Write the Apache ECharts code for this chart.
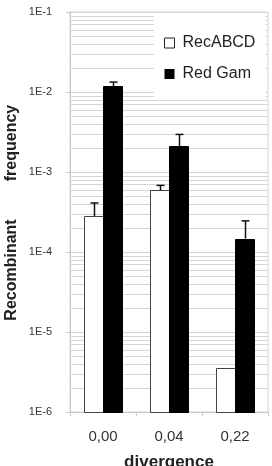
<!DOCTYPE html>
<html>
<head>
<meta charset="utf-8">
<script src="https://cdn.jsdelivr.net/npm/echarts@6/dist/echarts.min.js"></script>
<style>
html,body{margin:0;padding:0;background:#fff;}
#chart{width:272px;height:466px;}
</style>
</head>
<body>
<div id="chart"></div>
<script>
const categories = ['0,00', '0,04', '0,22'];
const recABCD = [2.8e-4, 5.9e-4, 3.5e-6];
const recABCDErr = [1.3e-4, 0.9e-4, null];
const redGam = [1.18e-2, 2.1e-3, 1.47e-4];
const redGamErr = [1.5e-3, 0.85e-3, 0.98e-4];
const yTickLabels = ['1E-6', '1E-5', '1E-4', '1E-3', '1E-2', '1E-1'];
const yMin = 1e-6;
const yMax = 1e-1;
const yMinExp = -6;
const minorGridValues = [];
for (let e = -6; e < -1; e++) {
  for (let m = 2; m <= 9; m++) minorGridValues.push(m * Math.pow(10, e));
}

const FONT = 'Liberation Sans, Arial, sans-serif';
const BAR_W = 19;

function barData(vals) {
  return vals.map((v, i) => [i, v]);
}
function errData(vals, errs) {
  const out = [];
  vals.forEach((v, i) => {
    if (errs[i] != null) out.push([i, v, v + errs[i]]);
  });
  return out;
}

function barRender(offset, fill, stroke) {
  return function (params, api) {
    const i = api.value(0);
    const top = api.coord([i, api.value(1)]);
    const base = api.coord([i, yMin]);
    const x = Math.round(top[0] + offset);
    const y = Math.round(top[1]);
    return {
      type: 'rect',
      shape: { x: x + 0.5, y: y + 0.5, width: BAR_W, height: Math.round(base[1]) - y },
      style: { fill: fill, stroke: stroke, lineWidth: 1 }
    };
  };
}

function errRender(offset) {
  return function (params, api) {
    const i = api.value(0);
    const base = api.coord([i, api.value(1)]);
    const top = api.coord([i, api.value(2)]);
    const x = Math.round(base[0] + offset) + 0.5;
    const cap = 4;
    return {
      type: 'group',
      children: [
        { type: 'line', shape: { x1: x, y1: base[1], x2: x, y2: top[1] }, style: { stroke: '#111', lineWidth: 1.5 } },
        { type: 'line', shape: { x1: x - cap, y1: top[1], x2: x + cap, y2: top[1] }, style: { stroke: '#111', lineWidth: 1.5 } }
      ]
    };
  };
}

// minor log gridlines drawn through the y axis scale
function gridRender(params, api) {
  const p = api.coord([0, api.value(1)]);
  const cs = params.coordSys;
  const y = Math.round(p[1]) + 0.5;
  return {
    type: 'line',
    shape: { x1: cs.x, y1: y, x2: cs.x + cs.width, y2: y },
    style: { stroke: '#d6d6d6', lineWidth: 1 }
  };
}

const chart = echarts.init(document.getElementById('chart'), null, { renderer: 'canvas' });
chart.setOption({
  animation: false,
  backgroundColor: '#fff',
  textStyle: { fontFamily: FONT },
  grid: { left: 70, right: 4, top: 12, bottom: 54, show: true, borderColor: '#d4d4d4', borderWidth: 1, backgroundColor: 'transparent', containLabel: false, outerBoundsMode: 'none' },
  legend: {
    left: 154, top: 15,
    orient: 'vertical',
    padding: [20, 10, 16, 10],
    backgroundColor: '#fff',
    itemWidth: 10, itemHeight: 10,
    itemGap: 15,
    textStyle: { fontSize: 16, color: '#222', fontFamily: FONT, padding: [0, 0, 0, 3] },
    data: [
      { name: 'RecABCD', icon: 'rect', itemStyle: { color: '#fff', borderColor: '#222', borderWidth: 1 } },
      { name: 'Red Gam', icon: 'rect', itemStyle: { color: '#000', borderWidth: 0 } }
    ]
  },
  xAxis: {
    type: 'category',
    data: categories,
    name: 'divergence',
    nameLocation: 'middle',
    nameGap: 42,
    nameTextStyle: { fontSize: 17, fontWeight: 'bold', color: '#222', fontFamily: FONT },
    axisLine: { lineStyle: { color: '#c8c8c8', width: 1 } },
    axisTick: { show: true, length: 4, lineStyle: { color: '#c8c8c8' } },
    axisLabel: { fontSize: 15, color: '#333', margin: 17, fontFamily: FONT },
    splitLine: { show: false }
  },
  yAxis: {
    type: 'log',
    logBase: 10,
    min: yMin,
    max: yMax,
    axisLine: { show: true, lineStyle: { color: '#c8c8c8', width: 1 } },
    axisTick: { show: true, length: 4, lineStyle: { color: '#c8c8c8' } },
    axisLabel: {
      fontSize: 11, color: '#333', margin: 18, fontFamily: FONT,
      formatter: function (v) {
        const e = Math.round(Math.log10(v));
        return yTickLabels[e - yMinExp] || '';
      }
    },
    splitLine: { show: true, lineStyle: { color: '#d4d4d4', width: 1 } }
  },
  graphic: [
    { type: 'text', x: 12, y: 270, rotation: Math.PI / 2, style: { text: 'Recombinant', fontSize: 16, fontWeight: 'bold', fill: '#222', fontFamily: FONT, align: 'center', verticalAlign: 'middle' } },
    { type: 'text', x: 12, y: 143, rotation: Math.PI / 2, style: { text: 'frequency', fontSize: 16, fontWeight: 'bold', fill: '#222', fontFamily: FONT, align: 'center', verticalAlign: 'middle' } }
  ],
  series: [
    {
      name: 'minorGrid', type: 'custom', data: minorGridValues.map(v => [0, v]),
      encode: { x: 0, y: 1 }, renderItem: gridRender, silent: true, z: 1
    },
    {
      name: 'RecABCD', type: 'custom', data: barData(recABCD),
      encode: { x: 0, y: 1 },
      renderItem: barRender(-BAR_W, '#fff', '#444'),
      itemStyle: { color: '#fff', borderColor: '#222' },
      z: 3
    },
    {
      name: 'Red Gam', type: 'custom', data: barData(redGam),
      encode: { x: 0, y: 1 },
      renderItem: barRender(0, '#000', '#000'),
      itemStyle: { color: '#000' },
      z: 3
    },
    { type: 'custom', name: 'errRec', data: errData(recABCD, recABCDErr), encode: { x: 0, y: [1, 2] }, renderItem: errRender(-BAR_W / 2), z: 4, silent: true },
    { type: 'custom', name: 'errRed', data: errData(redGam, redGamErr), encode: { x: 0, y: [1, 2] }, renderItem: errRender(BAR_W / 2), z: 4, silent: true }
  ]
});
</script>
</body>
</html>
